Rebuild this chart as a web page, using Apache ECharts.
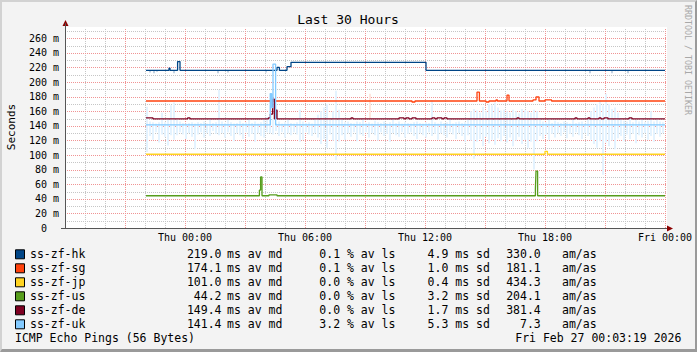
<!DOCTYPE html>
<html><head><meta charset="utf-8">
<script src="https://cdn.jsdelivr.net/npm/echarts@6/dist/echarts.min.js"></script>
<style>
html,body{margin:0;padding:0;background:#f3f3f3;}
#w{position:absolute;left:65px;top:27px;width:602px;height:201px;background:#ffffff;}
#c{position:absolute;left:0;top:0;width:697px;height:352px;}
#b{position:absolute;left:0;top:0;width:697px;height:352px;box-sizing:border-box;border-top:2px solid #d2d2d2;border-left:2px solid #d2d2d2;border-right:2px solid #9a9a9a;border-bottom:3px solid #9a9a9a;pointer-events:none;}
</style>
</head><body><div id="w"></div><div id="c"></div><div id="b"></div>
<script>
// ---- axis ticks (x in hours relative to Thu 00:00) ----
const xTickHours = [0, 6, 12, 18, 24];
const xTickLabels = ['Thu 00:00', 'Thu 06:00', 'Thu 12:00', 'Thu 18:00', 'Fri 00:00'];
const yTickValues = [0, 20, 40, 60, 80, 100, 120, 140, 160, 180, 200, 220, 240, 260];
const yTickLabels = ['0  ', '20 m', '40 m', '60 m', '80 m', '100 m', '120 m', '140 m', '160 m', '180 m', '200 m', '220 m', '240 m', '260 m'];
// grid line positions
const gridMajorX = [-3, 0, 3, 6, 9, 12, 15, 18, 21, 24];
const gridMinorX = [-5, -4, -2, -1, 1, 2, 4, 5, 7, 8, 10, 11, 13, 14, 16, 17, 19, 20, 22, 23];
const gridMajorY = [20, 40, 60, 80, 100, 120, 140, 160, 180, 200, 220, 240, 260];
const gridMinorY = [10, 30, 50, 70, 90, 110, 130, 150, 170, 190, 210, 230, 250, 270];

// ---- legend ----
const names = ['ss-zf-hk', 'ss-zf-sg', 'ss-zf-jp', 'ss-zf-us', 'ss-zf-de', 'ss-zf-uk'];
const colors = ['#004586', '#ff420e', '#ffd320', '#579d1c', '#7e0021', '#83caff'];
const avMd = ['219.0', '174.1', '101.0', '44.2', '149.4', '141.4'];
const avLs = ['0.1', '0.1', '0.0', '0.0', '0.0', '3.2'];
const sdMs = ['4.9', '1.0', '0.4', '3.2', '1.7', '5.3'];
const amAs = ['330.0', '181.1', '434.3', '204.1', '381.4', '7.3'];

// ---- median lines (ms), [hour, value] change points ----
const hk = [[-1.95,216],[-0.8,219],[-0.75,216],[-0.37,228],[-0.25,216],[4.6,220],[4.72,216],[5.1,221],[5.3,227],[12.05,216],[24,216]];
const sg = [[-1.95,174],[11.35,172.6],[11.5,174],[14.6,186],[14.72,174],[15.05,172.6],[15.2,174],[15.55,175.5],[15.62,174],[16.1,182],[16.2,174],[17.4,175.5],[17.55,179.5],[17.7,174],[18.0,175.5],[18.33,174],[24,174]];
const jp = [[-1.95,101],[18.0,105],[18.12,101],[24,101]];
const us = [[-1.95,44.2],[3.72,52],[3.78,70],[3.85,44.2],[4.2,45.5],[4.6,44.2],[17.52,53],[17.55,78],[17.63,44.2],[24,44.2]];
const de = [[-1.95,150.8],[-1.6,149.4],[0.13,150.8],[0.25,149.4],[4.17,150.8],[4.27,156],[4.38,176.5],[4.47,149.4],[4.53,161.5],[4.6,149.4],
  [8.3,150.8],[8.4,149.4],[10.7,150.8],[10.95,149.4],[11.05,150.8],[11.2,149.4],[11.35,150.8],[11.55,149.4],[12.35,150.8],[12.5,149.4],
  [12.6,150.8],[12.85,149.4],[12.95,150.8],[13.1,149.4],[16.6,150.8],[16.7,149.4],[19.5,150.8],[19.6,149.4],[20.15,150.8],[20.25,149.4],
  [20.7,150.8],[20.8,149.4],[20.95,150.8],[21.15,149.4],[22.2,150.8],[22.35,149.4],[24,149.4]];
const uk = [[-1.95,141.4],[4.27,184],[4.33,165],[4.4,224.5],[4.53,141.4],[24,141.4]];

// ---- smoke ranges [hour, low, high] ----
const ukSmoke = [
[-1.95,104,166],[-1.8,126,146],[-1.65,121,145],[-1.5,131,143],[-1.35,117,145],[-1.2,128,158],[-1.05,125,145],[-0.9,113,150],[-0.75,127,168],[-0.6,121,172],
[-0.45,127,150],[-0.3,131,146],[-0.15,128,144],[0,122,143],[0.15,130,144],[0.3,125,145],[0.45,108,143],[0.6,128,145],[0.75,131,144],[0.9,124,146],
[1.05,130,143],[1.2,126,150],[1.35,133,144],[1.5,129,145],[1.65,127,189],[1.8,130,146],[1.95,124,144],[2.1,131,150],[2.25,126,145],[2.4,119,143],
[2.55,130,144],[2.7,127,147],[2.85,122,144],[3.0,131,145],[3.15,125,150],[3.3,129,144],[3.45,118,146],[3.6,130,143],[3.75,126,145],[3.9,124,149],
[4.05,131,152],[4.2,130,185],[4.35,128,150],[4.5,133,144],[4.65,126,146],[4.8,131,143],[4.95,124,145],[5.1,130,150],[5.25,127,144],[5.4,131,143],
[5.55,128,145],[5.7,118,162],[5.85,121,146],[6.0,131,144],[6.15,128,145],[6.3,126,143],[6.45,130,150],[6.6,124,155],[6.75,115,160],[6.9,122,165],
[7.05,110,170],[7.2,128,150],[7.35,120,160],[7.5,93,188],[7.65,118,162],[7.8,127,150],[7.95,121,145],[8.1,130,146],[8.25,125,144],[8.4,131,143],
[8.55,119,146],[8.7,128,145],[8.85,126,150],[9.0,131,144],[9.15,124,145],[9.3,130,143],[9.45,127,147],[9.6,120,145],[9.75,131,144],[9.9,126,146],
[10.05,129,143],[10.2,118,145],[10.35,130,150],[10.5,127,144],[10.65,125,146],[10.8,131,143],[10.95,124,145],[11.1,129,144],[11.25,131,143],[11.4,126,145],
[11.55,122,146],[11.7,130,144],[11.85,127,143],[12.0,124,145],[12.15,131,144],[12.3,126,175],[12.45,129,145],[12.6,121,143],[12.75,130,146],[12.9,127,144],
[13.05,124,145],[13.2,131,150],[13.35,128,143],[13.5,122,145],[13.65,130,146],[13.8,126,144],[13.95,118,145],[14.1,127,150],[14.25,120,160],[14.4,95,163],
[14.55,118,161],[14.7,122,158],[14.85,112,166],[15.0,125,160],[15.15,116,170],[15.3,121,168],[15.45,114,172],[15.6,123,165],[15.75,119,161],[15.9,126,162],
[16.05,117,160],[16.2,124,158],[16.35,112,162],[16.5,120,160],[16.65,125,157],[16.8,115,163],[16.95,121,161],[17.1,110,160],[17.25,118,158],[17.4,80,162],
[17.55,119,160],[17.7,126,150],[17.85,122,146],[18.0,128,145],[18.15,121,150],[18.3,129,144],[18.45,124,147],[18.6,130,145],[18.75,126,144],[18.9,131,146],
[19.05,123,145],[19.2,129,143],[19.35,125,148],[19.5,131,144],[19.65,127,145],[19.8,122,146],[19.95,130,143],[20.1,126,150],[20.25,121,160],[20.4,115,165],
[20.55,110,170],[20.7,119,175],[20.85,73,168],[21.0,117,184],[21.15,112,170],[21.3,120,163],[21.45,108,165],[21.6,123,158],[21.75,126,150],[21.9,119,147],
[22.05,128,146],[22.2,122,150],[22.35,129,145],[22.5,116,148],[22.65,127,146],[22.8,124,150],[22.95,130,145],[23.1,121,147],[23.25,126,160],[23.4,118,146],
[23.55,129,150],[23.7,125,146],[23.85,130,145]];
const hkSmoke = [[-1.8,213,216],[-1.6,212,216],[-1.45,214,216],[-0.6,212,216],[1.6,212,216],[2.1,213,216],[4.0,213,216],[20.2,212,216],[21.3,212,216],[22.1,212,216]];
const sgSmoke = [[9.2,150,184]];

const BAR = 0.1;
const X0 = -6, X1 = 24, Y0 = 0, YTOP = 274;
function smoke(color) {
  return function (params, api) {
    const p1 = api.coord([api.value(0), api.value(2)]);
    const p2 = api.coord([api.value(0) + BAR, api.value(1)]);
    return { type: 'rect', shape: { x: p1[0], y: p1[1], width: p2[0] - p1[0], height: p2[1] - p1[1] }, style: { fill: color } };
  };
}
const crisp = v => Math.round(v) + 0.5;
function gridV(color) {
  return function (params, api) {
    const a = api.coord([api.value(0), Y0]), b = api.coord([api.value(0), YTOP]);
    const x = crisp(a[0]);
    return { type: 'line', shape: { x1: x, y1: a[1], x2: x, y2: b[1] }, style: { stroke: color, lineWidth: 1, lineDash: [1, 1] } };
  };
}
function gridH(color) {
  return function (params, api) {
    const a = api.coord([X0, api.value(0)]), b = api.coord([X1, api.value(0)]);
    const y = crisp(a[1]);
    return { type: 'line', shape: { x1: a[0], y1: y, x2: b[0] + 2, y2: y }, style: { stroke: color, lineWidth: 1, lineDash: [1, 1] } };
  };
}

const MONO = '"DejaVu Sans Mono", monospace';
const RED = '#f09494', GREY = '#c6c6c6';
const nb = s => s.replace(/ /g, '\u00a0');

const chart = echarts.init(document.getElementById('c'), null, { renderer: 'svg' });

const toData = arr => arr.map(v => [v]);
const series = [
  { type: 'custom', renderItem: gridV(GREY), data: toData(gridMinorX), encode: { x: 0 }, clip: false, silent: true, z: 0 },
  { type: 'custom', renderItem: gridH(GREY), data: toData(gridMinorY), encode: { y: 0 }, clip: false, silent: true, z: 0 },
  { type: 'custom', renderItem: gridV(RED), data: toData(gridMajorX), encode: { x: 0 }, clip: false, silent: true, z: 0 },
  { type: 'custom', renderItem: gridH(RED), data: toData(gridMajorY), encode: { y: 0 }, clip: false, silent: true, z: 0 },
  { type: 'custom', renderItem: smoke('#e4f3ff'), data: ukSmoke, encode: { x: 0, y: [1, 2] }, clip: true, silent: true },
  { type: 'custom', renderItem: smoke('#c2d2e2'), data: hkSmoke, encode: { x: 0, y: [1, 2] }, clip: true, silent: true },
  { type: 'custom', renderItem: smoke('#ffe6de'), data: sgSmoke, encode: { x: 0, y: [1, 2] }, clip: true, silent: true }
];
[hk, sg, jp, us, de, uk].forEach((d, i) => series.push({
  type: 'line', name: names[i], data: d, step: 'end', showSymbol: false, symbol: 'none',
  lineStyle: { color: colors[i], width: 1.3 }, silent: true
}));

const graphic = [];
graphic.push({ type: 'text', x: 348, y: 19.5, style: { text: 'Last 30 Hours', font: '13px ' + MONO, fill: '#000', align: 'center', verticalAlign: 'middle' } });
graphic.push({ type: 'text', x: 11, y: 127, rotation: Math.PI / 2, style: { text: 'Seconds', font: '11px ' + MONO, fill: '#000', align: 'center', verticalAlign: 'middle' } });
graphic.push({ type: 'text', x: 688, y: 60, rotation: -Math.PI / 2, style: { text: 'RRDTOOL / TOBI OETIKER', font: '8.3px ' + MONO, fill: '#a8a8a8', align: 'center', verticalAlign: 'middle' } });
graphic.push({ type: 'polygon', shape: { points: [[62.5, 26], [68.5, 26], [65.5, 20]] }, style: { fill: '#8b0000' } });
graphic.push({ type: 'line', shape: { x1: 665, y1: 228.5, x2: 668, y2: 228.5 }, style: { stroke: '#555', lineWidth: 1 } });
graphic.push({ type: 'polygon', shape: { points: [[667, 225.5], [667, 231.5], [673, 228.5]] }, style: { fill: '#8b0000' } });
graphic.push({ type: 'line', shape: { x1: 61, y1: 228.5, x2: 65, y2: 228.5 }, style: { stroke: '#555', lineWidth: 1 } });
const FS = '11.5px ' + MONO;
names.forEach((n, i) => {
  const y = 254.3 + i * 14;
  graphic.push({ type: 'rect', shape: { x: 15.5, y: y - 4.5, width: 9, height: 9 }, style: { fill: colors[i], stroke: '#000', lineWidth: 1 } });
  graphic.push({ type: 'text', x: 30, y: y, style: { text: n, font: FS, fill: '#000', verticalAlign: 'middle' } });
  graphic.push({ type: 'text', x: 221.5, y: y, style: { text: avMd[i], font: FS, fill: '#000', align: 'right', verticalAlign: 'middle' } });
  graphic.push({ type: 'text', x: 227, y: y, style: { text: 'ms av md', font: FS, fill: '#000', verticalAlign: 'middle' } });
  graphic.push({ type: 'text', x: 319.3, y: y, style: { text: avLs[i] + ' % av ls', font: FS, fill: '#000', verticalAlign: 'middle' } });
  graphic.push({ type: 'text', x: 427.6, y: y, style: { text: sdMs[i] + ' ms sd', font: FS, fill: '#000', verticalAlign: 'middle' } });
  graphic.push({ type: 'text', x: 540.8, y: y, style: { text: amAs[i], font: FS, fill: '#000', align: 'right', verticalAlign: 'middle' } });
  graphic.push({ type: 'text', x: 562, y: y, style: { text: 'am/as', font: FS, fill: '#000', verticalAlign: 'middle' } });
});
graphic.push({ type: 'text', x: 15, y: 338.3, style: { text: 'ICMP Echo Pings (56 Bytes)', font: FS, fill: '#000', verticalAlign: 'middle' } });
graphic.push({ type: 'text', x: 681.4, y: 338.3, style: { text: 'Fri Feb 27 00:03:19 2026', font: FS, fill: '#000', align: 'right', verticalAlign: 'middle' } });

chart.setOption({
  animation: false,
  backgroundColor: 'transparent',
  grid: { left: 65, right: 32, top: 23.6, bottom: 124, show: false },
  xAxis: {
    type: 'value', min: X0, max: X1, interval: 3,
    axisLine: { show: true, onZero: false, lineStyle: { color: '#555', width: 1 } },
    axisTick: { show: false },
    axisLabel: {
      margin: 4, fontFamily: MONO, fontSize: 10, color: '#000',
      formatter: v => { const k = xTickHours.indexOf(v); return k >= 0 ? xTickLabels[k] : ''; }
    },
    splitLine: { show: false }
  },
  yAxis: {
    type: 'value', min: 0, max: 280, interval: 20,
    axisLine: { show: true, onZero: false, lineStyle: { color: '#555', width: 1 } },
    axisTick: { show: false },
    axisLabel: {
      margin: 6, fontFamily: MONO, fontSize: 10, color: '#000',
      formatter: v => { const k = yTickValues.indexOf(v); return k >= 0 ? nb(yTickLabels[k]) : ''; }
    },
    splitLine: { show: false }
  },
  series: series,
  graphic: graphic
});
</script></body></html>
